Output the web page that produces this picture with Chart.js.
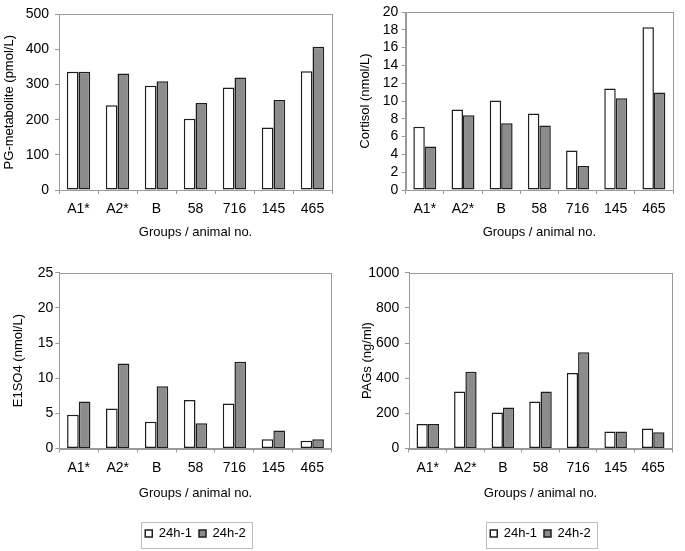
<!DOCTYPE html>
<html>
<head>
<meta charset="utf-8">
<script src="https://cdn.jsdelivr.net/npm/chart.js@4.4.1/dist/chart.umd.min.js"></script>
<style>
  html, body { margin: 0; padding: 0; background: #fff; }
  body { width: 685px; height: 551px; position: relative; overflow: hidden; }
  canvas { position: absolute; }
</style>
</head>
<body>
<canvas id="pg" width="340" height="245" style="left:0;top:0"></canvas>
<canvas id="cortisol" width="345" height="245" style="left:340px;top:0"></canvas>
<canvas id="e1so4" width="340" height="301" style="left:0;top:250px"></canvas>
<canvas id="pags" width="345" height="301" style="left:340px;top:250px"></canvas>
<script>
const groups = ['A1*', 'A2*', 'B', '58', '716', '145', '465'];
const seriesNames = ['24h-1', '24h-2'];

const pgFirst = [337, 241, 297, 203, 292, 178, 338];
const pgSecond = [337, 332, 310, 248, 320, 256, 408];
const cortisolFirst = [7.1, 9.05, 10.05, 8.6, 4.45, 11.4, 18.3];
const cortisolSecond = [4.9, 8.4, 7.5, 7.25, 2.7, 10.3, 10.95];
const e1so4First = [4.8, 5.7, 3.8, 6.9, 6.4, 1.3, 1.1];
const e1so4Second = [6.7, 12.1, 8.85, 3.6, 12.35, 2.55, 1.3];
const pagsFirst = [140, 324, 205, 268, 429, 97, 114];
const pagsSecond = [140, 436, 233, 324, 548, 97, 93];

const xTitle = 'Groups / animal no.';
const font = 'Liberation Sans, Arial, Helvetica, sans-serif';
const frameColor = '#9a9a9a';
const barEdge = '#1e1e1e';
const colors = ['#ffffff', '#8c8c8c'];

Chart.defaults.font.family = font;
Chart.defaults.color = '#000';

// grey box round the plot area
const plotFrame = {
  id: 'plotFrame',
  beforeDatasetsDraw(chart) {
    const { ctx, chartArea: a } = chart;
    ctx.save();
    ctx.strokeStyle = frameColor;
    ctx.lineWidth = 1;
    ctx.strokeRect(Math.round(a.left) + 0.5, Math.round(a.top) + 0.5,
      Math.round(a.right - a.left), Math.round(a.bottom - a.top));
    ctx.restore();
  }
};

// thin border round the legend items
const legendFrame = {
  id: 'legendFrame',
  afterDraw(chart) {
    const legend = chart.legend;
    if (!legend || !legend.options.display) return;
    const boxes = legend.legendHitBoxes;
    const first = boxes[0];
    const last = boxes[boxes.length - 1];
    const x0 = Math.round(first.left - 4) + 0.5;
    const x1 = Math.round(last.left + last.width + 6) + 0.5;
    const y0 = Math.round(first.top - 5) + 0.5;
    const y1 = Math.round(first.top + first.height + 8) + 0.5;
    const ctx = chart.ctx;
    ctx.save();
    ctx.strokeStyle = '#bdbdbd';
    ctx.lineWidth = 1;
    ctx.strokeRect(x0, y0, x1 - x0, y1 - y0);
    ctx.restore();
  }
};

function drawPanel(id, first, second, yMax, yStep, yTitle, lay) {
  new Chart(document.getElementById(id), {
    type: 'bar',
    data: {
      labels: groups,
      datasets: [first, second].map((values, i) => ({
        label: seriesNames[i],
        data: values,
        backgroundColor: colors[i],
        borderColor: barEdge,
        borderWidth: 1.5,
        borderSkipped: false,
        inflateAmount: 0,
        categoryPercentage: 0.6,
        barPercentage: 1.0
      }))
    },
    options: {
      responsive: false,
      animation: false,
      events: [],
      layout: { padding: lay.pad },
      scales: {
        x: {
          grid: { drawOnChartArea: false, tickLength: 4, color: frameColor, offset: true },
          border: { color: frameColor },
          ticks: { padding: 7, autoSkip: false, maxRotation: 0, font: { size: 14 } },
          title: { display: true, text: xTitle, font: { size: 13 }, padding: { top: 4, bottom: lay.xTitlePad } },
          afterFit(scale) { scale.height = lay.xHeight; }
        },
        y: {
          min: 0,
          max: yMax,
          grid: { drawOnChartArea: false, tickLength: 4, color: frameColor },
          border: { color: frameColor },
          ticks: {
            stepSize: yStep,
            autoSkip: false,
            padding: lay.yTickPad,
            font: { size: 14 },
            callback: (value) => String(value)
          },
          title: { display: true, text: yTitle, font: { size: 13 }, padding: { top: 2, bottom: 2 } },
          afterFit(scale) { scale.width = lay.yWidth; }
        }
      },
      plugins: {
        legend: {
          display: lay.legend,
          position: 'bottom',
          fullSize: false,
          labels: {
            boxWidth: 7,
            boxHeight: 7,
            padding: 7,
            font: { size: 13 },
            color: '#000'
          }
        },
        tooltip: { enabled: false }
      }
    },
    plugins: [plotFrame, legendFrame]
  });
}

drawPanel('pg', pgFirst, pgSecond, 500, 100, 'PG-metabolite (pmol/L)', {
  pad: { left: 0, top: 12, right: 8, bottom: 5 },
  yWidth: 59, yTickPad: 6, xHeight: 50, xTitlePad: 0, legend: false
});
drawPanel('cortisol', cortisolFirst, cortisolSecond, 20, 2, 'Cortisol (nmol/L)', {
  pad: { left: 16, top: 12, right: 12, bottom: 5 },
  yWidth: 49.7, yTickPad: 3.4, xHeight: 50, xTitlePad: 0, legend: false
});
drawPanel('e1so4', e1so4First, e1so4Second, 25, 5, 'E1SO4 (nmol/L)', {
  pad: { left: 9, top: 22.7, right: 8.3, bottom: 1 },
  yWidth: 50.3, yTickPad: 2, xHeight: 71.5, xTitlePad: 19, legend: true
});
drawPanel('pags', pagsFirst, pagsSecond, 1000, 200, 'PAGs (ng/ml)', {
  pad: { left: 17.7, top: 22.7, right: 13, bottom: 1 },
  yWidth: 51.3, yTickPad: 5.7, xHeight: 71.5, xTitlePad: 19, legend: true
});
</script>
</body>
</html>
